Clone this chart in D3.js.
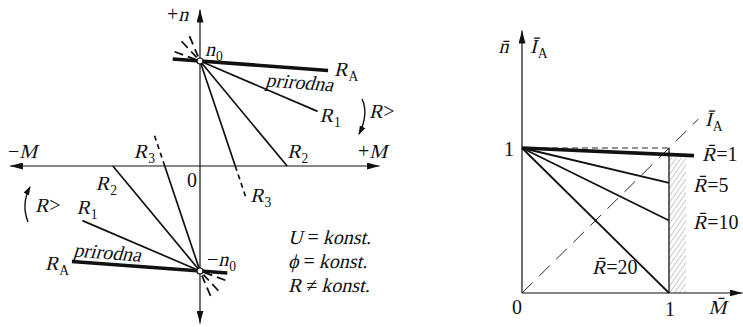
<!DOCTYPE html>
<html>
<head>
<meta charset="utf-8">
<script src="https://cdn.jsdelivr.net/npm/d3@7"></script>
<style>
  body { margin: 0; background: #fff; }
  svg { display: block; }
</style>
</head>
<body>
<svg width="743" height="327"></svg>
<script>
// left diagram: speed-torque lines of the DC motor, drawn from +n0 (per unit n0 = 1)
// and mirrored through the origin for the generator/brake side (-n0)
const leftNames = ["A", "1", "2", "3"];
const leftEndM = [1.22, 1.12, 0.83, 0.44];   // torque where each line stops
const leftEndN = [0.91, 0.52, 0, -0.31];     // speed there
const naturalStartM = -0.26;                 // natural line runs a little past n0
const fanAngles = [160, 133, 113];           // dashed rays round n0, degrees

// right diagram: per-unit lines, value of n at M = 1
const rBar = [1, 5, 10, 20];
const nAtRated = [0.955, 0.76, 0.5, 0];
const rEndM = [1.17, 1, 1, 1];
const iaDiagEnd = 1.2;

const svg = d3.select("svg");
const FONT = '"Liberation Serif"';

const defs = svg.append("defs");
defs.append("marker")
    .attr("id", "arr")
    .attr("viewBox", "0 0 13 7")
    .attr("refX", 13).attr("refY", 3.5)
    .attr("markerWidth", 13).attr("markerHeight", 7)
    .attr("markerUnits", "userSpaceOnUse")
    .attr("orient", "auto-start-reverse")
  .append("path").attr("d", "M0,0L13,3.5L0,7Z").attr("fill", "#111");
defs.append("marker")
    .attr("id", "arrS")
    .attr("viewBox", "0 0 9 6")
    .attr("refX", 8).attr("refY", 3)
    .attr("markerWidth", 9).attr("markerHeight", 6)
    .attr("markerUnits", "userSpaceOnUse")
    .attr("orient", "auto")
  .append("path").attr("d", "M0,0L9,3L0,6Z").attr("fill", "#111");
const hatch = defs.append("pattern")
    .attr("id", "hatch")
    .attr("patternUnits", "userSpaceOnUse")
    .attr("width", 4).attr("height", 4)
    .attr("patternTransform", "rotate(35)");
hatch.append("line").attr("x1", 0).attr("y1", 0).attr("x2", 0).attr("y2", 4)
    .attr("stroke", "#777").attr("stroke-width", 0.8);

// text built from pieces; the serif italic face is missing, so italics are slanted by hand
function label(g, x, y, parts, anchor, rot) {
  const size = 20;
  const grp = g.append("g");
  let cx = 0;
  parts.forEach(p => {
    const fs = p.sub ? size * 0.68 : size;
    const t = grp.append("text")
        .attr("transform", `translate(${cx},${p.sub ? 5 : 0})` + (p.i ? " skewX(-14)" : ""))
        .style("font-family", FONT)
        .style("font-size", fs + "px")
        .style("fill", "#111")
        .text(p.t);
    cx += t.node().getComputedTextLength() + (p.i ? 1 : 0);
  });
  const dx = anchor === "middle" ? -cx / 2 : anchor === "end" ? -cx : 0;
  grp.attr("transform", `translate(${x},${y})` + (rot ? ` rotate(${rot})` : "") + ` translate(${dx},0)`);
  return grp;
}

// ---------- left diagram ----------
const xL = d3.scaleLinear().domain([0, 1]).range([200, 305]);
const yL = d3.scaleLinear().domain([0, 1]).range([166, 61]);
const L = svg.append("g");

L.append("line")
    .attr("x1", xL(-1.81)).attr("x2", xL(1.71))
    .attr("y1", yL(0)).attr("y2", yL(0))
    .attr("stroke", "#111").attr("stroke-width", 1.2)
    .attr("marker-start", "url(#arr)").attr("marker-end", "url(#arr)");
L.append("line")
    .attr("x1", xL(0)).attr("x2", xL(0))
    .attr("y1", yL(-1.5)).attr("y2", yL(1.49))
    .attr("stroke", "#111").attr("stroke-width", 1.2)
    .attr("marker-start", "url(#arr)").attr("marker-end", "url(#arr)");

const line = d3.line().x(d => xL(d[0])).y(d => yL(d[1]));
const lineData = [];
leftNames.forEach((name, i) => {
  const slope = (leftEndN[i] - 1) / leftEndM[i];
  [1, -1].forEach(s => {
    if (name === "A") {
      const n0 = 1 + slope * naturalStartM;
      lineData.push({ pts: [[s * naturalStartM, s * n0], [s * leftEndM[i], s * leftEndN[i]]], w: 3.6 });
    } else if (leftEndN[i] < 0) {
      const m0 = -1 / slope;
      lineData.push({ pts: [[0, s], [s * m0, 0]], w: 1.7 });
      lineData.push({ pts: [[s * m0, 0], [s * leftEndM[i], s * leftEndN[i]]], w: 1.7, dash: "5,4" });
    } else {
      lineData.push({ pts: [[0, s], [s * leftEndM[i], s * leftEndN[i]]], w: 1.7 });
    }
  });
});
L.selectAll("path.ch")
  .data(lineData)
  .join("path")
    .attr("class", "ch")
    .attr("d", d => line(d.pts))
    .attr("fill", "none")
    .attr("stroke", "#111")
    .attr("stroke-width", d => d.w)
    .attr("stroke-dasharray", d => d.dash || null);

// dashed fans at the no-load points
[1, -1].forEach(s => {
  const cx = xL(0), cy = yL(s);
  fanAngles.forEach(a => {
    const r = (a + (s < 0 ? 180 : 0)) * Math.PI / 180;
    [[5, 13], [18, 27]].forEach(([r0, r1]) => {
      L.append("line")
          .attr("x1", cx + r0 * Math.cos(r)).attr("y1", cy - r0 * Math.sin(r))
          .attr("x2", cx + r1 * Math.cos(r)).attr("y2", cy - r1 * Math.sin(r))
          .attr("stroke", "#111").attr("stroke-width", 1.8);
    });
  });
  L.append("circle").attr("cx", cx).attr("cy", cy).attr("r", 3)
      .attr("fill", "#fff").attr("stroke", "#111").attr("stroke-width", 1.2);
});

// labels
label(L, 167, 21, [{ t: "+" }, { t: "n", i: true }]);
label(L, 205, 56, [{ t: "n", i: true }, { t: "0", sub: true }]);
label(L, 8, 158, [{ t: "−" }, { t: "M", i: true }]);
label(L, 358, 158, [{ t: "+" }, { t: "M", i: true }]);
label(L, 192, 187, [{ t: "0" }], "middle");
label(L, 207, 266, [{ t: "−" }, { t: "n", i: true }, { t: "0", sub: true }]);

const angA = Math.atan2(yL(leftEndN[0]) - yL(1), xL(leftEndM[0]) - xL(0)) * 180 / Math.PI;
label(L, xL(leftEndM[0]) + 6, yL(leftEndN[0]) + 6, [{ t: "R", i: true }, { t: "A", sub: true }]);
label(L, xL(leftEndM[0]) - 63, yL(leftEndN[0]) + 16, [{ t: "prirodna", i: true }], "start", angA);
label(L, xL(leftEndM[1]) + 2, yL(leftEndN[1]) + 11, [{ t: "R", i: true }, { t: "1", sub: true }]);
label(L, xL(leftEndM[2]), yL(0) - 8, [{ t: "R", i: true }, { t: "2", sub: true }]);
label(L, xL(leftEndM[3]) + 4, yL(leftEndN[3]) + 3, [{ t: "R", i: true }, { t: "3", sub: true }]);

label(L, xL(-leftEndM[0]) - 27, yL(-leftEndN[0]) + 8, [{ t: "R", i: true }, { t: "A", sub: true }]);
label(L, xL(-leftEndM[0]) + 1, yL(-leftEndN[0]) - 5, [{ t: "prirodna", i: true }], "start", angA);
label(L, xL(-leftEndM[1]) - 6, yL(-leftEndN[1]) - 7, [{ t: "R", i: true }, { t: "1", sub: true }]);
label(L, xL(-leftEndM[2]) - 17, yL(0) + 24, [{ t: "R", i: true }, { t: "2", sub: true }]);
label(L, xL(-leftEndM[3]) - 20, yL(0) - 8, [{ t: "R", i: true }, { t: "3", sub: true }]);

// curved "R >" arrows
L.append("path").attr("d", "M362,99 Q369,114 359,134")
    .attr("fill", "none").attr("stroke", "#111").attr("stroke-width", 1.4)
    .attr("marker-end", "url(#arrS)");
label(L, 369, 118, [{ t: "R", i: true }, { t: ">" }]);
L.append("path").attr("d", "M28,222 Q21,204 30,187")
    .attr("fill", "none").attr("stroke", "#111").attr("stroke-width", 1.4)
    .attr("marker-end", "url(#arrS)");
label(L, 35, 212, [{ t: "R", i: true }, { t: ">" }]);

label(L, 288, 244, [{ t: "U", i: true }, { t: "\u2009=\u2009" }, { t: "konst.", i: true }]);
label(L, 288, 268, [{ t: "\u03D5", i: true }, { t: "\u2009=\u2009" }, { t: "konst.", i: true }]);
label(L, 288, 292, [{ t: "R", i: true }, { t: "\u2009\u2260\u2009" }, { t: "konst.", i: true }]);

// ---------- right diagram ----------
const xR = d3.scaleLinear().domain([0, 1]).range([522, 669]);
const yR = d3.scaleLinear().domain([0, 1]).range([293, 148]);
const R = svg.append("g");

R.append("rect")
    .attr("x", xR(1)).attr("y", yR(nAtRated[0]) + 3)
    .attr("width", 17).attr("height", yR(0) - yR(nAtRated[0]) - 3)
    .attr("fill", "url(#hatch)");

R.append("line")
    .attr("x1", xR(0)).attr("x2", xR(1.5))
    .attr("y1", yR(0)).attr("y2", yR(0))
    .attr("stroke", "#111").attr("stroke-width", 1.2)
    .attr("marker-end", "url(#arr)");
R.append("line")
    .attr("x1", xR(0)).attr("x2", xR(0))
    .attr("y1", yR(0)).attr("y2", yR(1.81))
    .attr("stroke", "#111").attr("stroke-width", 1.2)
    .attr("marker-end", "url(#arr)");
R.append("line")
    .attr("x1", xR(1)).attr("x2", xR(1))
    .attr("y1", yR(0)).attr("y2", yR(1))
    .attr("stroke", "#111").attr("stroke-width", 1.3);
R.append("line")
    .attr("x1", xR(0)).attr("x2", xR(1))
    .attr("y1", yR(1)).attr("y2", yR(1))
    .attr("stroke", "#111").attr("stroke-width", 0.9)
    .attr("stroke-dasharray", "6,4");
R.append("line")
    .attr("x1", xR(0)).attr("x2", xR(iaDiagEnd))
    .attr("y1", yR(0)).attr("y2", yR(iaDiagEnd))
    .attr("stroke", "#111").attr("stroke-width", 0.9)
    .attr("stroke-dasharray", "15,9");

const lineR = d3.line().x(d => xR(d[0])).y(d => yR(d[1]));
R.selectAll("path.rl")
  .data(rBar.map((r, i) => ({ r, pts: [[0, 1], [rEndM[i], 1 + (nAtRated[i] - 1) * rEndM[i]]] })))
  .join("path")
    .attr("class", "rl")
    .attr("d", d => lineR(d.pts))
    .attr("fill", "none")
    .attr("stroke", "#111")
    .attr("stroke-width", d => d.r === 1 ? 3.6 : 1.8);

label(R, 514, 156, [{ t: "1" }], "end");
label(R, 517, 314, [{ t: "0" }], "middle");
label(R, xR(1) + 1, 316, [{ t: "1" }], "middle");
label(R, 718, 314, [{ t: "M\u0304", i: true }], "middle");
label(R, 504, 53, [{ t: "n\u0304", i: true }], "middle");
label(R, 530, 53, [{ t: "I\u0304", i: true }, { t: "A", sub: true }]);
label(R, 705, 126, [{ t: "I\u0304", i: true }, { t: "A", sub: true }]);

const rLabelPos = [[702, 161], [693, 192], [693, 229], [592, 274]];
rBar.forEach((r, i) => {
  label(R, rLabelPos[i][0], rLabelPos[i][1], [{ t: "R\u0304", i: true }, { t: "=" + r }]);
});
</script>
</body>
</html>
